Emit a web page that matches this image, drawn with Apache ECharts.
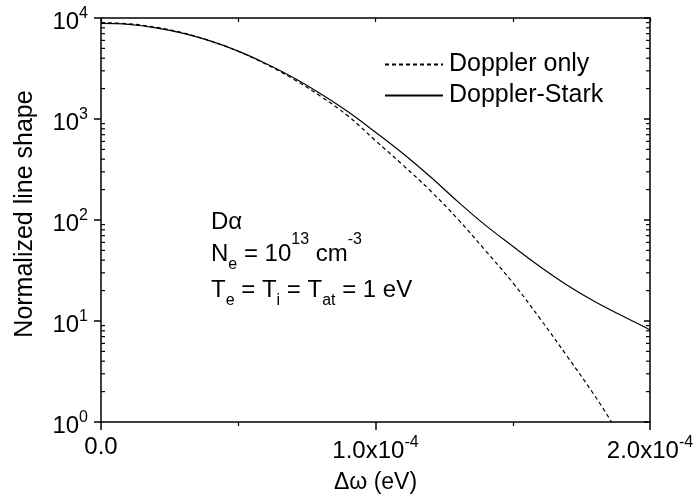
<!DOCTYPE html>
<html>
<head>
<meta charset="utf-8">
<script src="https://cdn.jsdelivr.net/npm/echarts@6/dist/echarts.min.js"></script>
<style>
html,body{margin:0;padding:0;background:#fff;}
#main{width:695px;height:496px;}
</style>
</head>
<body>
<div id="main"></div>
<script>
// ---- data (x in eV, y normalized line shape) ----
var dopplerX = [0, 1e-5, 2e-5, 3e-5, 4e-5, 5e-5, 6e-5, 7e-5, 8e-5, 9e-5, 1.0e-4, 1.1e-4, 1.2e-4, 1.3e-4, 1.4e-4, 1.5e-4, 1.6e-4, 1.7e-4, 1.8e-4, 1.86e-4];
var dopplerY = [9000, 8770, 8100, 7110, 5910, 4670, 3500, 2490, 1680, 1070, 610, 350, 195, 102, 50, 24, 10.5, 4.4, 1.8, 1.0];
var starkX = [0, 1e-5, 2e-5, 3e-5, 4e-5, 5e-5, 6e-5, 7e-5, 8e-5, 9e-5, 1.0e-4, 1.1e-4, 1.2e-4, 1.3e-4, 1.4e-4, 1.5e-4, 1.6e-4, 1.7e-4, 1.8e-4, 1.9e-4, 2.0e-4];
var starkY = [8850, 8650, 8000, 7050, 5900, 4700, 3550, 2580, 1780, 1180, 740, 455, 268, 152, 89, 55, 34.5, 22.5, 15.5, 11.2, 8.2];
var seriesNames = ['Doppler only', 'Doppler-Stark'];
var xTickValues = [0, 1e-4, 2e-4];
var xTickMantissa = ['0.0', '1.0', '2.0'];
var xTickExp = [null, '-4', '-4'];
var yMinorTickValues = [2,3,4,5,6,7,8,9,20,30,40,50,60,70,80,90,200,300,400,500,600,700,800,900,2000,3000,4000,5000,6000,7000,8000,9000];

var FONT = 'Liberation Sans, Arial, Helvetica, sans-serif';

function pairs(xs, ys) { var out = []; for (var i = 0; i < ys.length; i++) out.push([xs[i], ys[i]]); return out; }

var chart = echarts.init(document.getElementById('main'), null, {renderer: 'canvas'});

var tickRich = {
  b: {fontSize: 24, fontFamily: FONT, color: '#000'},
  s: {fontSize: 16, fontFamily: FONT, color: '#000', padding: [0, 0, 16, 0]}
};
var noteRich = {
  b: {fontSize: 24, fontFamily: FONT, color: '#000'},
  s: {fontSize: 16, fontFamily: FONT, color: '#000', padding: [0, 0, 28, 0]},
  sub: {fontSize: 16, fontFamily: FONT, color: '#000', padding: [22, 0, 0, 0]}
};

var option = {
  animation: false,
  backgroundColor: '#fff',
  grid: {left: 101, right: 45, top: 18, bottom: 74, show: false, containLabel: false, outerBoundsMode: 'none'},
  legend: {
    data: seriesNames,
    orient: 'vertical',
    left: 379,
    top: 47,
    itemWidth: 58,
    itemHeight: 20,
    itemGap: 6,
    itemStyle: {opacity: 0},
    textStyle: {fontSize: 25, fontFamily: FONT, color: '#000', padding: [0, 0, 0, 1]},
    selectedMode: false
  },
  xAxis: [{
    type: 'value',
    min: 0, max: 2e-4, interval: 1e-4,
    position: 'bottom',
    name: 'Δω (eV)',
    nameLocation: 'middle',
    nameGap: 49,
    nameTextStyle: {fontSize: 23, fontFamily: FONT, color: '#000'},
    axisLine: {show: true, onZero: false, lineStyle: {color: '#000', width: 1.5}},
    axisTick: {show: true, inside: false, length: 8, lineStyle: {color: '#000', width: 1.5}},
    minorTick: {show: true, splitNumber: 2, length: 4, lineStyle: {color: '#000', width: 1.2}},
    splitLine: {show: false},
    axisLabel: {
      margin: 13,
      formatter: function (v) {
        for (var i = 0; i < xTickValues.length; i++) {
          if (Math.abs(v - xTickValues[i]) < 1e-9) {
            return xTickExp[i] ? '{b|' + xTickMantissa[i] + 'x10}{s|' + xTickExp[i] + '}' : '{b|' + xTickMantissa[i] + '}';
          }
        }
        return '';
      },
      rich: tickRich
    }
  }, {
    type: 'value',
    min: 0, max: 2e-4, interval: 5e-5,
    position: 'top',
    axisLine: {show: true, onZero: false, lineStyle: {color: '#000', width: 1.5}},
    axisTick: {show: true, inside: true, length: 4, lineStyle: {color: '#000', width: 1.2}},
    axisLabel: {show: false},
    splitLine: {show: false}
  }],
  yAxis: [{
    type: 'log',
    logBase: 10,
    min: 1, max: 10000,
    position: 'left',
    name: 'Normalized line shape',
    nameLocation: 'middle',
    nameGap: 63,
    nameRotate: 90,
    nameTextStyle: {fontSize: 25, fontFamily: FONT, color: '#000', padding: [0, 0, 0, 12]},
    axisLine: {show: true, onZero: false, lineStyle: {color: '#000', width: 1.5}},
    axisTick: {show: true, inside: false, length: 7, lineStyle: {color: '#000', width: 1.5}},
    splitLine: {show: false},
    axisLabel: {
      margin: 13,
      padding: [8, 0, 0, 0],
      formatter: function (v) {
        var e = Math.round(Math.log(v) / Math.LN10);
        return '{b|10}{s|' + e + '}';
      },
      rich: tickRich
    }
  }, {
    type: 'log',
    logBase: 10,
    min: 1, max: 10000,
    position: 'right',
    axisLine: {show: true, onZero: false, lineStyle: {color: '#000', width: 1.5}},
    axisTick: {show: true, inside: true, length: 6, lineStyle: {color: '#000', width: 1.5}},
    axisLabel: {show: false},
    splitLine: {show: false}
  }],
  graphic: [{
    type: 'text', left: 211, top: 210,
    style: {text: '{b|Dα}', rich: noteRich}
  }, {
    type: 'text', left: 211, top: 232,
    style: {text: '{b|N}{sub|e}{b| = 10}{s|13}{b| cm}{s|-3}', rich: noteRich}
  }, {
    type: 'text', left: 211, top: 278,
    style: {text: '{b|T}{sub|e}{b| = T}{sub|i}{b| = T}{sub|at}{b| = 1 eV}', rich: noteRich}
  }],
  series: [{
    name: seriesNames[0],
    type: 'line',
    xAxisIndex: 0, yAxisIndex: 0,
    data: pairs(dopplerX, dopplerY),
    symbol: 'none',
    smooth: 0.4,
    clip: true,
    lineStyle: {color: '#000', width: 1.2, type: [4, 3]},
    itemStyle: {color: '#000'}
  }, {
    name: seriesNames[1],
    type: 'line',
    xAxisIndex: 0, yAxisIndex: 0,
    data: pairs(starkX, starkY),
    symbol: 'none',
    smooth: 0.4,
    clip: true,
    lineStyle: {color: '#000', width: 1.2, type: 'solid'},
    itemStyle: {color: '#000'}
  }, {
    name: 'minorTicks',
    type: 'custom',
    xAxisIndex: 0, yAxisIndex: 0,
    silent: true,
    data: yMinorTickValues.map(function (v) { return [0, v]; }),
    encode: {x: 0, y: 1},
    renderItem: function (params, api) {
      var v = api.value(1);
      var l = api.coord([0, v]);
      var r = api.coord([2e-4, v]);
      var st = {stroke: '#000', lineWidth: 1.2};
      return {
        type: 'group',
        children: [
          {type: 'line', shape: {x1: l[0], y1: l[1], x2: l[0] + 4, y2: l[1]}, style: st},
          {type: 'line', shape: {x1: r[0], y1: r[1], x2: r[0] - 4, y2: r[1]}, style: st}
        ]
      };
    }
  }]
};
chart.setOption(option);
</script>
</body>
</html>
